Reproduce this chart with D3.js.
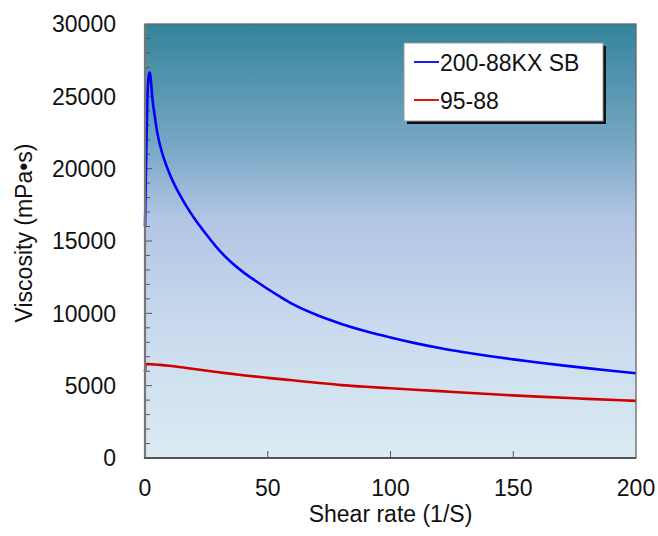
<!DOCTYPE html>
<html>
<head>
<meta charset="utf-8">
<script src="https://cdn.jsdelivr.net/npm/d3@7"></script>
<style>
  body { margin: 0; background: #fff; }
  text { font-family: "Liberation Sans", Arial, sans-serif; fill: #111; }
</style>
</head>
<body>
<svg id="chart" width="658" height="536"></svg>
<script>
// Viscosity curves
var blueShear = [0, 0.5, 1.0, 1.5, 1.9, 2.2, 2.5, 3, 4, 5, 6, 8, 10, 12, 15, 18, 21, 25, 30, 35, 40, 45, 50, 55, 60, 70, 80, 90, 100, 110, 120, 130, 140, 150, 160, 170, 180, 190, 200];
var blueVisc  = [16000, 21000, 25000, 26400, 26650, 26450, 25900, 24900, 23600, 22500, 21700, 20550, 19650, 18900, 17950, 17100, 16350, 15450, 14400, 13550, 12850, 12250, 11680, 11150, 10650, 9880, 9270, 8760, 8330, 7940, 7600, 7310, 7050, 6820, 6600, 6400, 6210, 6030, 5860];

var redShear = [0, 0.3, 1, 3, 6, 10, 15, 20, 30, 40, 50, 60, 70, 80, 90, 100, 120, 140, 160, 180, 200];
var redVisc  = [5950, 6480, 6490, 6470, 6440, 6380, 6270, 6150, 5930, 5720, 5540, 5370, 5200, 5040, 4920, 4820, 4620, 4420, 4240, 4090, 3950];

var seriesNames  = ["200-88KX SB", "95-88"];
var seriesColors = ["#0000ff", "#d00000"];

var xTicks = [0, 50, 100, 150, 200];
var yTicks = [0, 5000, 10000, 15000, 20000, 25000, 30000];

var svg = d3.select("#chart");
var plotLeft = 145, plotRight = 636, plotTop = 24, plotBottom = 458;

var x = d3.scaleLinear().domain([0, 200]).range([plotLeft, plotRight]);
var y = d3.scaleLinear().domain([0, 30000]).range([plotBottom, plotTop]);

// background gradient
var defs = svg.append("defs");
var grad = defs.append("linearGradient").attr("id", "bg")
    .attr("x1", 0).attr("y1", 0).attr("x2", 0).attr("y2", 1);
[["0", "#33849a"], ["0.28", "#77a8c5"], ["0.45", "#b3c5e4"], ["0.7", "#c9daee"], ["1", "#daebf2"]]
    .forEach(function(s) { grad.append("stop").attr("offset", s[0]).attr("stop-color", s[1]); });

svg.append("rect")
    .attr("x", plotLeft).attr("y", plotTop)
    .attr("width", plotRight - plotLeft).attr("height", plotBottom - plotTop)
    .attr("fill", "url(#bg)");

// minor y ticks, inside
var yMinor = d3.range(1000, 30000, 1000);
svg.append("g").selectAll("line").data(yMinor).enter().append("line")
    .attr("x1", plotLeft).attr("x2", function(d) { return d % 5000 === 0 ? plotLeft + 7 : plotLeft + 5; })
    .attr("y1", function(d) { return y(d); }).attr("y2", function(d) { return y(d); })
    .attr("stroke", "#555").attr("stroke-width", 1);

// x ticks, inside
svg.append("g").selectAll("line").data(xTicks.slice(1, -1)).enter().append("line")
    .attr("x1", function(d) { return x(d); }).attr("x2", function(d) { return x(d); })
    .attr("y1", plotBottom).attr("y2", plotBottom - 7)
    .attr("stroke", "#555").attr("stroke-width", 1);

// curves
var line = d3.line()
    .x(function(d) { return x(d[0]); })
    .y(function(d) { return y(d[1]); })
    .curve(d3.curveMonotoneX);

var blueData = d3.zip(blueShear, blueVisc);
var redData = d3.zip(redShear, redVisc);

[blueData, redData].forEach(function(data, i) {
    svg.append("path").datum(data)
        .attr("d", line)
        .attr("fill", "none")
        .attr("stroke", seriesColors[i])
        .attr("stroke-width", 2.6);
});

// frame
svg.append("rect")
    .attr("x", plotLeft).attr("y", plotTop)
    .attr("width", plotRight - plotLeft).attr("height", plotBottom - plotTop)
    .attr("fill", "none").attr("stroke", "#666").attr("stroke-width", 1.3);
svg.append("line").attr("x1", plotLeft).attr("x2", plotLeft).attr("y1", plotTop).attr("y2", plotBottom + 1)
    .attr("stroke", "#777").attr("stroke-width", 2.2);
svg.append("line").attr("x1", plotLeft - 1).attr("x2", plotRight).attr("y1", plotBottom).attr("y2", plotBottom)
    .attr("stroke", "#555").attr("stroke-width", 2);

// tick labels
svg.append("g").selectAll("text").data(yTicks).enter().append("text")
    .attr("x", 116).attr("y", function(d) { return y(d); })
    .attr("dy", "0.36em")
    .attr("text-anchor", "end")
    .style("font-size", "23px")
    .text(function(d) { return d; });

svg.append("g").selectAll("text").data(xTicks).enter().append("text")
    .attr("x", function(d) { return x(d); }).attr("y", 496)
    .attr("text-anchor", "middle")
    .style("font-size", "23px")
    .text(function(d) { return d; });

// axis titles
svg.append("text")
    .attr("x", (plotLeft + plotRight) / 2).attr("y", 522)
    .attr("text-anchor", "middle")
    .style("font-size", "23px")
    .text("Shear rate (1/S)");

svg.append("text")
    .attr("transform", "translate(32,233) rotate(-90)")
    .attr("text-anchor", "middle")
    .style("font-size", "23px")
    .text("Viscosity (mPa\u2022s)");

// legend
var legend = svg.append("g");
legend.append("rect")
    .attr("x", 407).attr("y", 46).attr("width", 199).attr("height", 78)
    .attr("fill", "#111");
legend.append("rect")
    .attr("x", 404).attr("y", 43).attr("width", 199).attr("height", 78)
    .attr("fill", "#fff").attr("stroke", "#999").attr("stroke-width", 1);

seriesNames.forEach(function(name, i) {
    var ly = 62 + i * 38;
    legend.append("line")
        .attr("x1", 414).attr("x2", 439).attr("y1", ly).attr("y2", ly)
        .attr("stroke", seriesColors[i]).attr("stroke-width", 1.8);
    legend.append("text")
        .attr("x", 440).attr("y", ly + 8.5)
        .style("font-size", "23px")
        .text(name);
});
</script>
</body>
</html>
